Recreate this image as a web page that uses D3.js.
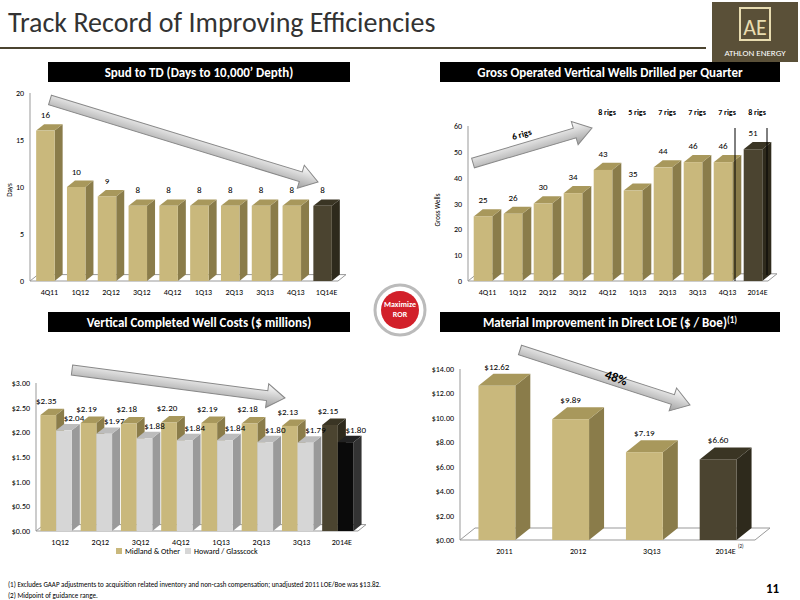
<!DOCTYPE html>
<html><head><meta charset="utf-8">
<script src="https://cdn.jsdelivr.net/npm/d3@7"></script>
<style>body{margin:0;background:#fff}svg{font-family:Calibri,Carlito,"Liberation Sans",sans-serif}</style>
</head><body><svg id="slide" width="800" height="600"></svg>
<script>
/* data */
var spudCats = ["4Q11","1Q12","2Q12","3Q12","4Q12","1Q13","2Q13","3Q13","4Q13","1Q14E"];
var spudDays = [16,10,9,8,8,8,8,8,8,8];
var wellCats = ["4Q11","1Q12","2Q12","3Q12","4Q12","1Q13","2Q13","3Q13","4Q13","2014E"];
var wellCounts = [25,26,30,34,43,35,44,46,46,51];
var rigLabels = ["8 rigs","5 rigs","7 rigs","7 rigs","7 rigs","8 rigs"];
var costCats = ["1Q12","2Q12","3Q12","4Q12","1Q13","2Q13","3Q13","2014E"];
var costMidland = [2.35,2.19,2.18,2.20,2.19,2.18,2.13,2.15];
var costHoward = [2.04,1.97,1.88,1.84,1.84,1.80,1.79,1.80];
var loeCats = ["2011","2012","3Q13","2014E"];
var loeValues = [12.62,9.89,7.19,6.60];

var svg = d3.select("#slide");
var gold = {front:"#c9b87c", side:"#8a7c4a", top:"#a8985c"};
var dark = {front:"#4b4430", side:"#2e2a1c", top:"#3a3524"};
var grey = {front:"#d6d6d6", side:"#9a9a9a", top:"#bcbcbc"};
var blk = {front:"#0a0a0a", side:"#333", top:"#222"};

/* title + logo */
svg.append("text").attr("x",8).attr("y",32).text("Track Record of Improving Efficiencies")
  .style("font-size","28px").attr("fill","#333");
svg.append("line").attr("x1",0).attr("x2",706).attr("y1",48).attr("y2",48).attr("stroke","#4b4430").attr("stroke-width",2);
var logo = svg.append("g");
logo.append("rect").attr("x",712).attr("y",2).attr("width",86).attr("height",60).attr("fill","#5a5038");
logo.append("rect").attr("x",740).attr("y",8).attr("width",30).attr("height",32).attr("fill","none").attr("stroke","#e8dcb0").attr("stroke-width",2);
logo.append("text").attr("x",755).attr("y",35).attr("text-anchor","middle").text("AE").attr("fill","#e8dcb0").style("font-size","22px");
logo.append("text").attr("x",755).attr("y",56).attr("text-anchor","middle").text("ATHLON ENERGY").attr("fill","#fff").style("font-size","9px");

function header(x,y,w,txt,sup){
  svg.append("rect").attr("x",x).attr("y",y).attr("width",w).attr("height",20).attr("fill","#000");
  var t = svg.append("text").attr("x",x+w/2).attr("y",y+15).attr("text-anchor","middle")
    .attr("fill","#fff").style("font-size","13px").style("font-weight","bold").text(txt);
  if(sup) t.append("tspan").attr("dy",-4).style("font-size","9px").text(sup);
}
header(48,62,302,"Spud to TD (Days to 10,000’ Depth)");
header(440,62,340,"Gross Operated Vertical Wells Drilled per Quarter");
header(48,312,302,"Vertical Completed Well Costs ($ millions)");
header(440,312,340,"Material Improvement in Direct LOE ($ / Boe)","(1)");

/* big arrow */
var defs = svg.append("defs");
var lg = defs.append("linearGradient").attr("id","arrowGrad").attr("x1",0).attr("y1",0).attr("x2",0).attr("y2",1);
lg.append("stop").attr("offset","0").attr("stop-color","#fff");
lg.append("stop").attr("offset","1").attr("stop-color","#a0a0a0");
function arrow(x1,y1,x2,y2){
  var ang = Math.atan2(y2-y1,x2-x1)*180/Math.PI, len = Math.hypot(x2-x1,y2-y1);
  var g = svg.append("g").attr("transform","translate("+x1+","+y1+") rotate("+ang+")");
  var pts = [[0,-5],[len-18,-5],[len-18,-12],[len,0],[len-18,12],[len-18,5],[0,5]];
  g.append("polygon").attr("points",pts.map(p=>p.join(",")).join(" "))
    .attr("fill","url(#arrowGrad)").attr("stroke","#888").attr("stroke-width",1);
}

/* 3d bar chart */
function chart(o){
  var g = svg.append("g");
  var x = d3.scaleBand().domain(o.cats).range([o.x0,o.x1]).paddingInner(o.pad).paddingOuter(o.pad/2);
  var y = d3.scaleLinear().domain([0,o.max]).range([o.y0,o.y1]);
  var dx = o.depth, dy = o.depth*0.8;
  g.append("polygon").attr("points",[[o.x0,o.y0],[o.x1,o.y0],[o.x1+dx,o.y0-dy],[o.x0+dx,o.y0-dy]].map(p=>p.join(",")).join(" "))
    .attr("fill","#fff").attr("stroke","#999");
  g.append("line").attr("x1",o.x0).attr("x2",o.x0).attr("y1",o.y0).attr("y2",o.y1).attr("stroke","#999");
  var ax = d3.axisLeft(y).tickValues(o.ticks).tickFormat(o.tfmt).tickSize(0).tickPadding(6);
  g.append("g").attr("transform","translate("+o.x0+",0)").call(ax)
    .call(s=>s.select(".domain").remove())
    .selectAll("text").style("font-size","8px").style("font-family","Calibri,Carlito,sans-serif").attr("fill","#000");
  g.selectAll(".xl").data(o.cats).join("text").attr("x",d=>x(d)+x.bandwidth()/2+dx/2).attr("y",o.y0+14)
    .attr("text-anchor","middle").style("font-size","8px").text(d=>d);
  o.series.forEach(function(s,si){
    var n = o.series.length, bw = x.bandwidth()/n;
    s.values.forEach(function(v,i){
      var c = s.col(i), bx = x(o.cats[i])+si*bw, by = y(v), bh = o.y0-by;
      g.append("polygon").attr("points",[[bx+bw,by],[bx+bw+dx,by-dy],[bx+bw+dx,o.y0-dy],[bx+bw,o.y0]].map(p=>p.join(",")).join(" ")).attr("fill",c.side);
      g.append("polygon").attr("points",[[bx,by],[bx+dx,by-dy],[bx+bw+dx,by-dy],[bx+bw,by]].map(p=>p.join(",")).join(" ")).attr("fill",c.top);
      g.append("rect").attr("x",bx).attr("y",by).attr("width",bw).attr("height",bh).attr("fill",c.front);
      g.append("text").attr("x",bx+bw/2+(s.lx||0)).attr("y",by-dy-o.lab+(s.ly||0)).attr("text-anchor","middle")
        .style("font-size",o.lfs).text(o.fmt(v));
    });
  });
  return {x:x,y:y};
}

/* chart 1 */
chart({cats:spudCats,x0:30,x1:338,y0:281,y1:93,max:20,ticks:[0,5,10,15,20],tfmt:d3.format("d"),pad:0.4,depth:8,lab:6,lfs:"9px",
  fmt:d3.format("d"),series:[{values:spudDays,col:i=>i==9?dark:gold}]});
svg.append("text").attr("transform","translate(12,190) rotate(-90)").attr("text-anchor","middle").style("font-size","7px").text("Days");
arrow(50,100,318,182);

/* chart 2 */
var c2 = chart({cats:wellCats,x0:468,x1:768,y0:281,y1:126,max:60,ticks:[0,10,20,30,40,50,60],tfmt:d3.format("d"),pad:0.38,depth:9,lab:6,lfs:"9px",
  fmt:d3.format("d"),series:[{values:wellCounts,col:i=>i==9?dark:gold}]});
svg.append("text").attr("transform","translate(440,210) rotate(-90)").attr("text-anchor","middle").style("font-size","7px").text("Gross Wells");
svg.selectAll(".rig").data(rigLabels).join("text").attr("x",(d,i)=>c2.x(wellCats[i+4])+c2.x.bandwidth()/2+4).attr("y",115)
  .attr("text-anchor","middle").style("font-size","8px").style("font-weight","bold").text(d=>d);
svg.append("line").attr("x1",735).attr("x2",735).attr("y1",128).attr("y2",281).attr("stroke","#000");
svg.append("line").attr("x1",767).attr("x2",767).attr("y1",128).attr("y2",275).attr("stroke","#000");
arrow(473,163,592,128);
svg.append("text").attr("transform","translate(513,140) rotate(-16)").style("font-size","9px").style("font-weight","bold").text("6 rigs");

/* chart 3 */
var money = v=>"$"+d3.format(".2f")(v);
chart({cats:costCats,x0:36,x1:358,y0:531,y1:383,max:3,ticks:[0,0.5,1,1.5,2,2.5,3],tfmt:money,pad:0.22,depth:8,lab:5,lfs:"9px",
  fmt:money,series:[{values:costMidland,col:i=>i==7?dark:gold,lx:-2},{values:costHoward,col:i=>i==7?blk:grey,lx:10,ly:2}]});
svg.append("rect").attr("x",116).attr("y",548).attr("width",6).attr("height",6).attr("fill",gold.front);
svg.append("text").attr("x",125).attr("y",554).style("font-size","8px").text("Midland & Other");
svg.append("rect").attr("x",185).attr("y",548).attr("width",6).attr("height",6).attr("fill",grey.front);
svg.append("text").attr("x",194).attr("y",554).style("font-size","8px").text("Howard / Glasscock");
arrow(72,370,285,398);

/* chart 4 */
chart({cats:loeCats,x0:460,x1:755,y0:540,y1:369,max:14,ticks:d3.range(0,15,2),tfmt:money,pad:0.5,depth:15,lab:4,lfs:"9px",
  fmt:money,series:[{values:loeValues,col:i=>i==3?dark:gold}]});
svg.append("text").attr("x",738).attr("y",548).style("font-size","5px").text("(2)");
arrow(520,350,690,405);
svg.append("text").attr("transform","translate(604,378) rotate(20)").style("font-size","13px").style("font-weight","bold").text("48%");

/* center badge */
svg.append("circle").attr("cx",400).attr("cy",310).attr("r",25).attr("fill","#fff").attr("stroke","#bbb").attr("stroke-width",3);
svg.append("circle").attr("cx",400).attr("cy",310).attr("r",19).attr("fill","#d2202a");
svg.append("text").attr("x",400).attr("y",307).attr("text-anchor","middle").attr("fill","#fff").style("font-size","8px").style("font-weight","bold").text("Maximize");
svg.append("text").attr("x",400).attr("y",317).attr("text-anchor","middle").attr("fill","#fff").style("font-size","8px").style("font-weight","bold").text("ROR");

/* footnotes */
svg.append("text").attr("x",8).attr("y",587).style("font-size","7px").text("(1)      Excludes GAAP adjustments to acquisition related inventory and non-cash compensation; unadjusted 2011 LOE/Boe was $13.82.");
svg.append("text").attr("x",8).attr("y",598).style("font-size","7px").text("(2)      Midpoint of guidance range.");
svg.append("text").attr("x",766).attr("y",593).style("font-size","13px").style("font-weight","bold").text("11");
</script></body></html>
